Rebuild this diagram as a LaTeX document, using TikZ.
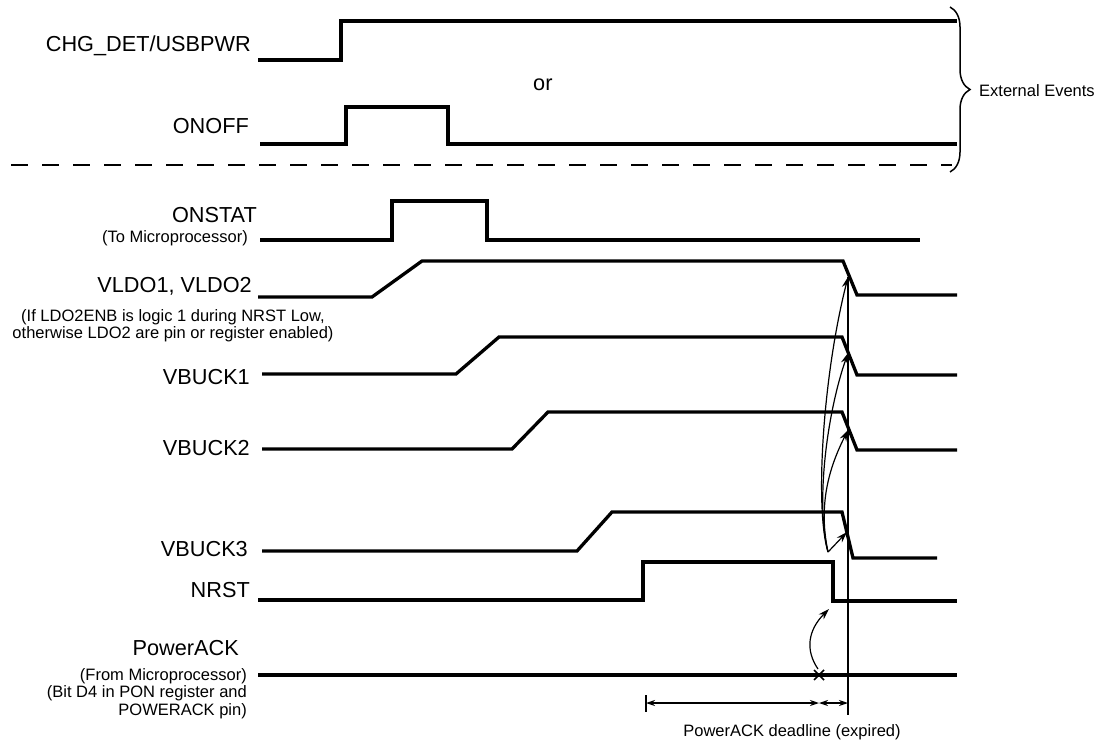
\documentclass[tikz,border=0pt]{standalone}
\usepackage{fontspec}
\setmainfont{Liberation Sans}
\usetikzlibrary{arrows.meta,decorations.pathreplacing,calc}
\begin{document}
\begin{tikzpicture}[x=1pt,y=-1pt,
  sig/.style={line width=3.3pt,line join=miter,line cap=butt},
  fine/.style={line width=1.2pt},
  lab/.style={font=\fontsize{21.7}{24}\selectfont,anchor=base east,inner sep=0pt},
  sublab/.style={font=\fontsize{16.5}{17.5}\selectfont,inner sep=0pt},
  arr/.style={fine,-{Stealth[length=11pt,width=7pt]}},
  dimarr/.style={fine,{Stealth[length=9pt,width=6pt]}-{Stealth[length=9pt,width=6pt]}},
]
\useasboundingbox (0,0) rectangle (1099,744);

% labels
\node[lab] (lchg) at (251,51) {CHG\_DET/USBPWR};
\node[lab] (lonoff) at (249,133) {ONOFF};
\node[font=\fontsize{21.7}{24}\selectfont,anchor=base west,inner sep=0pt] (lor) at (533,90) {or};
\node[lab] (lonstat) at (257,222) {ONSTAT};
\node[sublab,anchor=base east] (lonstat2) at (248,242) {(To Microprocessor)};
\node[lab] (lvldo) at (252,292) {VLDO1, VLDO2};
\node[sublab,align=center,anchor=north] (lvldo2) at (173,309) {(If LDO2ENB is logic 1 during NRST Low,\\otherwise LDO2 are pin or register enabled)};
\node[lab] (lvb1) at (250,384) {VBUCK1};
\node[lab] (lvb2) at (250,455) {VBUCK2};
\node[lab] (lvb3) at (248,556) {VBUCK3};
\node[lab] (lnrst) at (250,597) {NRST};
\node[lab] (lpack) at (239,655) {PowerACK};
\node[sublab,align=right,anchor=north east] (lpack2) at (247,668) {(From Microprocessor)\\(Bit D4 in PON register and\\POWERACK pin)};
\node[sublab,anchor=base west] (lext) at (979,96) {External Events};
\node[sublab,anchor=base] (ldead) at (792,736) {PowerACK deadline (expired)};

% external event signals
\draw[sig] (258,60) -- (341,60) -- (341,21) -- (957,21);
\draw[sig] (260,144) -- (346,144) -- (346,107) -- (448,107) -- (448,144) -- (957,144);
\draw[line width=1.8pt,dash pattern=on 17pt off 14pt] (11,165) -- (952,165);
\draw[line width=1.5pt,decorate,decoration={brace,amplitude=20pt}] (950,7) -- (950,172);

% internal signals
\draw[sig] (260,240) -- (392,240) -- (392,201) -- (487,201) -- (487,240) -- (920,240);
\draw[sig] (258,297) -- (372,297) -- (422,261) -- (843,261) -- (857,295) -- (957,295);
\draw[sig] (262,374) -- (456,374) -- (499,337) -- (842,337) -- (857,375) -- (957,375);
\draw[sig] (262,449) -- (512,449) -- (548,412) -- (842,412) -- (857,450) -- (957,450);
\draw[sig] (262,551) -- (577,551) -- (612,512) -- (842,512) -- (853,558) -- (937,558);
\draw[sig] (258,600) -- (643,600) -- (643,562) -- (833,562) -- (833,601) -- (957,601);
\draw[sig] (258,675) -- (957,675);

% coordinates
\coordinate (src) at (828,552);
\coordinate (t1) at (848,277);
\coordinate (t2) at (848,353);
\coordinate (t3) at (848,430);
\coordinate (t4) at (847,532);
\coordinate (vbot) at (848,715);
\coordinate (xm) at (819,675);
\coordinate (xt) at (818,669);
\coordinate (tn) at (829,609);
\coordinate (dl) at (646,703);
\coordinate (dm) at (819,703);
\coordinate (dr) at (848,703);

% deadline vertical line
\draw[fine] (t1) -- (vbot);

% causal arrows
\draw[arr] (src) .. controls (815,510) and (822,380) .. (t1);
\draw[arr] (src) .. controls (815,500) and (828,410) .. (t2);
\draw[arr] (src) .. controls (817,500) and (832,462) .. (t3);
\draw[arr] (src) -- (t4);

% x mark and arrow to NRST
\draw[line width=1.6pt] ($(xm)+(-5,-5)$) -- ($(xm)+(5,5)$) ($(xm)+(-5,5)$) -- ($(xm)+(5,-5)$);
\draw[arr] (xt) .. controls (805,650) and (808,630) .. (tn);

% dimension
\draw[fine] (646,695) -- (646,712);
\draw[dimarr] (dl) -- (dm);
\draw[dimarr] (dm) -- (dr);
\end{tikzpicture}
\end{document}
